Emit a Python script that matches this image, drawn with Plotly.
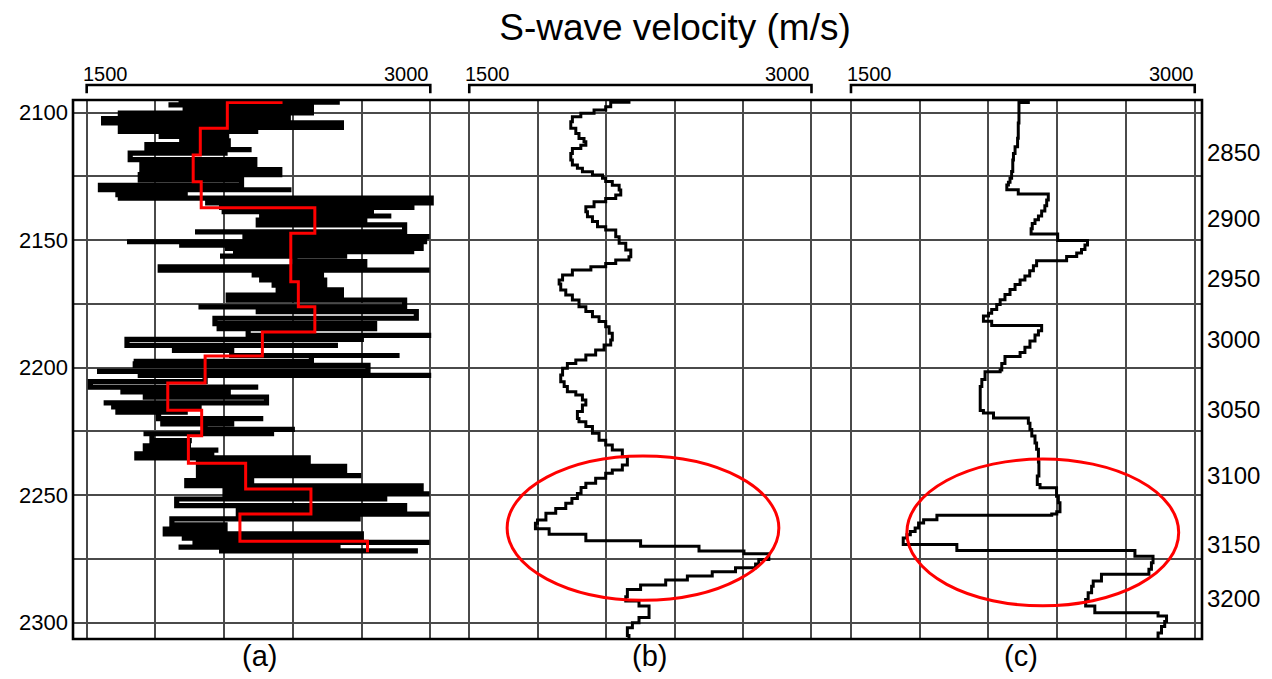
import plotly.graph_objects as go

# ---------------- data ----------------
# (a) raw S-wave log: each sampled row with its low / high velocity excursion
depth_a = [2095.8, 2096.9, 2098.4, 2100.1, 2101.0,
           2102.3, 2104.0, 2105.7, 2107.3, 2109.3,
           2111.0, 2112.5, 2114.5, 2115.8, 2118.4,
           2120.4, 2122.3, 2124.3, 2126.3, 2128.5,
           2130.2, 2132.1, 2133.5, 2135.4, 2137.1,
           2138.8, 2140.5, 2142.1, 2144.0, 2146.7,
           2148.6, 2150.6, 2151.9, 2153.2, 2154.5,
           2156.2, 2158.4, 2160.4, 2161.7, 2163.6,
           2165.6, 2167.6, 2169.5, 2171.5, 2173.5,
           2176.1, 2178.0, 2180.6, 2182.7, 2184.7,
           2187.3, 2188.9, 2191.2, 2193.2, 2195.2,
           2197.5, 2199.1, 2201.4, 2203.0, 2205.4,
           2207.6, 2209.5, 2211.5, 2213.8, 2215.4,
           2217.4, 2220.0, 2222.0, 2224.2, 2225.9,
           2228.6, 2230.6, 2232.3, 2233.8, 2235.4,
           2237.1, 2238.7, 2240.4, 2242.3, 2244.3,
           2246.3, 2248.0, 2249.5, 2251.5, 2254.1,
           2256.1, 2257.4, 2259.3, 2261.6, 2263.3,
           2265.2, 2266.8, 2268.5, 2270.4, 2271.8]
vmin_a = [1901, 1857, 1930, 2017, 1647,
          1705, 1574, 1647, 1647, 1814,
          1915, 2017, 1763, 1857, 1690,
          1814, 1741, 1734, 1734, 1618,
          1560, 1625, 1647, 2017, 2089,
          2089, 2264, 2322, 2249, 1973,
          2191, 1676, 1915, 2104, 2150,
          2082, 2409, 2278, 1821, 2220,
          2264, 2307, 2336, 2307, 2118,
          1988, 2249, 2060, 2060, 2067,
          2205, 2220, 1676, 1872, 2133,
          1705, 1712, 1545, 1734, 1625,
          1516, 1647, 1756, 1574, 1618,
          1625, 1814, 1821, 2017, 1748,
          1785, 1756, 1756, 1799, 1719,
          2075, 1988, 1994, 1988, 1959,
          1937, 2176, 2104, 2307, 1893,
          2205, 2162, 2176, 1872, 1915,
          1843, 1915, 1973, 1901, 2089]
vmax_a = [2605, 2481, 2452, 2481, 2249,
          2380, 2322, 2612, 2249, 2111,
          2104, 2118, 2220, 2104, 2162,
          2234, 2104, 2343, 2133, 2176,
          2394, 1930, 2394, 3004, 2931,
          2743, 2830, 2714, 2888, 2888,
          2997, 2975, 2960, 2960, 2930,
          2626, 2612, 2714, 2997, 2525,
          2496, 2539, 2496, 2612, 2873,
          2888, 2481, 2939, 2743, 2757,
          3004, 2699, 2597, 2104, 2866,
          2481, 2104, 2728, 3004, 2017,
          2249, 2118, 1872, 2285, 2002,
          1930, 2271, 2133, 2409, 2307,
          1959, 1944, 2075, 2046, 2089,
          2467, 2206, 2626, 2699, 2220,
          2147, 2960, 2997, 2801, 2699,
          2888, 2997, 2685, 2089, 2104,
          2670, 2699, 2997, 2597, 2946]

# (a) blocked (upscaled) log: top depth of each block and its velocity
depth_block = [2096.0, 2096.0, 2106.1, 2116.6, 2127.1, 2137.3, 2147.3, 2166.3,
               2176.1, 2186.0, 2195.4, 2206.0, 2216.7, 2226.7, 2237.5, 2247.6,
               2257.4, 2268.1, 2272.4]
vel_block = [2355, 2114, 1996, 1965, 2000, 2496, 2391, 2424,
             2496, 2267, 2017, 1854, 2002, 1944, 2194, 2479,
             2169, 2726, 2726]

# (b) smoothed log
depth_b = [2095.2, 2095.9, 2097.6, 2098.9, 2100.2, 2101.6, 2103.5, 2106.1, 2108.1, 2110.1,
           2111.4, 2112.7, 2114.0, 2116.0, 2118.5, 2120.5, 2121.8, 2123.1, 2124.4, 2125.7,
           2127.0, 2128.4, 2130.3, 2132.3, 2133.6, 2134.9, 2136.9, 2138.8, 2140.8, 2142.7,
           2144.7, 2146.0, 2148.6, 2151.2, 2153.8, 2156.5, 2157.8, 2159.1, 2160.4, 2161.7,
           2163.6, 2165.6, 2167.2, 2169.5, 2171.5, 2173.4, 2176.1, 2178.0, 2180.0, 2181.9,
           2183.9, 2186.5, 2189.1, 2191.1, 2193.1, 2195.0, 2197.0, 2198.3, 2200.2, 2202.9,
           2205.5, 2207.4, 2209.4, 2210.7, 2212.7, 2214.6, 2217.2, 2219.9, 2221.2, 2223.1,
           2225.7, 2228.4, 2230.3, 2232.3, 2234.9, 2238.2, 2240.1, 2241.4, 2243.4, 2245.3,
           2247.0, 2249.3, 2251.3, 2253.2, 2255.2, 2257.1, 2259.7, 2261.0, 2263.2, 2265.3,
           2267.9, 2270.0, 2271.9, 2273.0, 2275.2, 2277.0, 2278.5, 2280.0, 2281.7, 2283.3,
           2285.2, 2287.0, 2289.8, 2291.5, 2293.5, 2298.0, 2300.0, 2302.0, 2305.0, 2306.4]
vel_b = [2200, 2120, 2098, 2047, 1989, 1952, 1945, 1967, 1981, 2003,
         2011, 1989, 1952, 1945, 1952, 1974, 1996, 2040, 2084, 2098,
         2127, 2157, 2164, 2142, 2098, 2047, 2011, 2018, 2040, 2062,
         2098, 2142, 2157, 2186, 2208, 2200, 2142, 2098, 2033, 1952,
         1909, 1894, 1901, 1923, 1952, 1981, 2011, 2040, 2069, 2098,
         2113, 2127, 2120, 2091, 2054, 2011, 1967, 1930, 1909, 1901,
         1916, 1930, 1967, 1996, 2011, 1996, 1974, 1981, 2011, 2040,
         2069, 2098, 2127, 2171, 2193, 2171, 2127, 2098, 2054, 2011,
         1990, 1974, 1950, 1923, 1879, 1836, 1799, 1790, 1850, 2011,
         2251, 2507, 2704, 2813, 2769, 2755, 2667, 2565, 2456, 2361,
         2251, 2193, 2186, 2244, 2288, 2244, 2215, 2193, 2200, 2200]

# (c) inverted log
depth_c = [2095.2, 2096.0, 2104.0, 2110.0, 2113.3, 2116.0, 2118.5, 2123.0, 2125.7, 2127.3,
           2128.3, 2130.2, 2131.9, 2134.2, 2136.5, 2138.5, 2140.5, 2142.0, 2143.4, 2145.5,
           2147.6, 2150.1, 2151.9, 2153.6, 2155.0, 2156.4, 2158.0, 2160.0, 2162.0, 2164.0,
           2165.6, 2167.4, 2169.3, 2171.3, 2173.3, 2175.2, 2177.2, 2178.6, 2179.7, 2181.8,
           2183.4, 2185.5, 2187.2, 2189.5, 2192.0, 2194.0, 2195.6, 2198.3, 2200.9, 2201.6,
           2204.6, 2207.4, 2216.8, 2217.8, 2219.7, 2221.8, 2224.2, 2226.8, 2229.5, 2232.0,
           2237.0, 2242.5, 2245.8, 2247.1, 2250.4, 2253.0, 2256.5, 2257.4, 2257.9, 2259.6,
           2260.9, 2262.9, 2264.2, 2265.5, 2266.8, 2269.3, 2271.7, 2273.9, 2276.5, 2279.0,
           2281.0, 2283.7, 2285.7, 2288.3, 2290.9, 2293.5, 2296.1, 2297.4, 2299.5, 2301.5,
           2304.0, 2306.4]
vel_c = [2274, 2233, 2230, 2227, 2216, 2209, 2206, 2201, 2194, 2187,
         2180, 2230, 2361, 2354, 2346, 2332, 2318, 2303, 2291, 2286,
         2402, 2532, 2521, 2506, 2485, 2441, 2310, 2296, 2280, 2259,
         2238, 2216, 2194, 2172, 2151, 2136, 2114, 2100, 2078, 2114,
         2332, 2318, 2303, 2281, 2259, 2238, 2172, 2158, 2151, 2085,
         2071, 2064, 2078, 2122, 2274, 2281, 2289, 2303, 2310, 2318,
         2320, 2313, 2325, 2397, 2405, 2412, 2398, 2376, 1875, 1817,
         1795, 1780, 1759, 1744, 1728, 1962, 2739, 2818, 2811, 2800,
         2593, 2557, 2550, 2535, 2524, 2564, 2840, 2877, 2869, 2855,
         2840, 2833]

# labels
left_ticks = [2100, 2150, 2200, 2250, 2300]
right_tick_pos = [2115.7, 2141.4, 2165.2, 2189.1, 2216.6, 2242.5, 2269.5, 2290.4]
right_tick_text = ["2850", "2900", "2950", "3000", "3050", "3100", "3150", "3200"]
panel_labels = ["(a)", "(b)", "(c)"]
vel_min, vel_max = 1500, 3000

# ---------------- figure ----------------
FONT = "Liberation Sans, Arial, sans-serif"
GRID = "#4a4a4a"
RED = "#ff0000"

# raw log drawn as a stepped trace, alternating direction row by row
raw_x, raw_y = [], []
for i, (d, lo, hi) in enumerate(zip(depth_a, vmin_a, vmax_a)):
    pair = (lo, hi) if i % 2 == 0 else (hi, lo)
    raw_x += list(pair)
    raw_y += [d, d]

fig = go.Figure()
fig.add_trace(go.Scatter(x=raw_x, y=raw_y, mode="lines", line_shape="hv",
                         line=dict(color="black", width=5.2), xaxis="x", yaxis="y",
                         showlegend=False, hoverinfo="skip"))
fig.add_trace(go.Scatter(x=vel_block, y=depth_block, mode="lines", line_shape="vh",
                         line=dict(color=RED, width=3), xaxis="x", yaxis="y",
                         showlegend=False))
fig.add_trace(go.Scatter(x=vel_b, y=depth_b, mode="lines", line_shape="vh",
                         line=dict(color="black", width=3), xaxis="x2", yaxis="y",
                         showlegend=False))
# track (c) uses the right-hand depth axis (same vertical scale as the left one)
fig.add_trace(go.Scatter(x=vel_c, y=depth_c, mode="lines", line_shape="vh",
                         line=dict(color="black", width=3), xaxis="x3", yaxis="y2",
                         showlegend=False))

yrange = [2306.4, 2095.0]
xaxis_common = dict(showgrid=True, gridcolor=GRID, gridwidth=1.6, tick0=1500, dtick=300,
                    showticklabels=False, ticks="", zeroline=False, showline=False,
                    fixedrange=True)
hgrid = dict(tickmode="linear", tick0=2100, dtick=25, showgrid=True,
             gridcolor=GRID, gridwidth=1.6, ticks="")

fig.update_layout(
    width=1272, height=679,
    margin=dict(l=73, r=68, t=100, b=40),
    paper_bgcolor="white", plot_bgcolor="white",
    font=dict(family=FONT, color="black"),
    xaxis=dict(domain=[0, 0.3333], range=[1440.3, 3083.0], anchor="y", **xaxis_common),
    xaxis2=dict(domain=[0.3333, 0.6729], range=[1412.5, 3093.0], anchor="y", **xaxis_common),
    xaxis3=dict(domain=[0.6729, 1.0], range=[1420.3, 3031.7], anchor="y2", **xaxis_common),
    yaxis=dict(range=yrange, tickmode="array", tickvals=left_ticks,
               ticktext=[str(v) for v in left_ticks],
               showgrid=True, gridcolor=GRID, gridwidth=1.6, minor=hgrid,
               ticks="", ticklabelstandoff=4, zeroline=False, showline=False,
               tickfont=dict(size=22, family=FONT, color="black"), anchor="x"),
    yaxis2=dict(range=yrange, overlaying="y", side="right", anchor="x3",
                tickmode="array", tickvals=right_tick_pos, ticktext=right_tick_text,
                showgrid=False, minor=hgrid, ticks="", ticklabelstandoff=4, zeroline=False,
                showline=False, tickfont=dict(size=24, family=FONT, color="black")),
    title=dict(text="S-wave velocity (m/s)", x=675 / 1272, xref="container", xanchor="center",
               y=1 - 27 / 679, yref="container", yanchor="middle",
               font=dict(size=37, family=FONT, color="black")),
)

shapes = []
annotations = []
for ax in ["x", "x2", "x3"]:
    # bracket showing the velocity scale of each track
    shapes.append(dict(type="path", xref=ax, yref="paper",
                       path=f"M {vel_min},1.0124 L {vel_min},1.0278 L {vel_max},1.0278 L {vel_max},1.0124",
                       line=dict(color="black", width=2.6)))
    annotations.append(dict(x=vel_min, y=1.049, xref=ax, yref="paper", text=str(vel_min),
                            showarrow=False, xanchor="left", yanchor="middle", xshift=-6,
                            font=dict(size=20, family=FONT, color="black")))
    annotations.append(dict(x=vel_max, y=1.049, xref=ax, yref="paper", text=str(vel_max),
                            showarrow=False, xanchor="right", yanchor="middle", xshift=1,
                            font=dict(size=20, family=FONT, color="black")))

# outer frame
shapes.append(dict(type="rect", xref="paper", yref="paper", x0=0, x1=1, y0=0, y1=1,
                   line=dict(color="black", width=2.6), layer="above"))

# highlighted zones
shapes.append(dict(type="circle", xref="x2", yref="y", x0=1666, x1=2857, y0=2234.6, y1=2291.2,
                   line=dict(color=RED, width=3)))
shapes.append(dict(type="circle", xref="x3", yref="y2", x0=1744, x1=2930, y0=2235.8, y1=2293.4,
                   line=dict(color=RED, width=3)))

# track labels under each panel
for lab, px in zip(panel_labels, [0.1653, 0.511, 0.84]):
    annotations.append(dict(x=px, y=-0.031, xref="paper", yref="paper", text=lab,
                            showarrow=False, xanchor="center", yanchor="middle",
                            font=dict(size=29, family=FONT, color="black")))

fig.update_layout(shapes=shapes, annotations=annotations)
fig.write_html("out.html")
